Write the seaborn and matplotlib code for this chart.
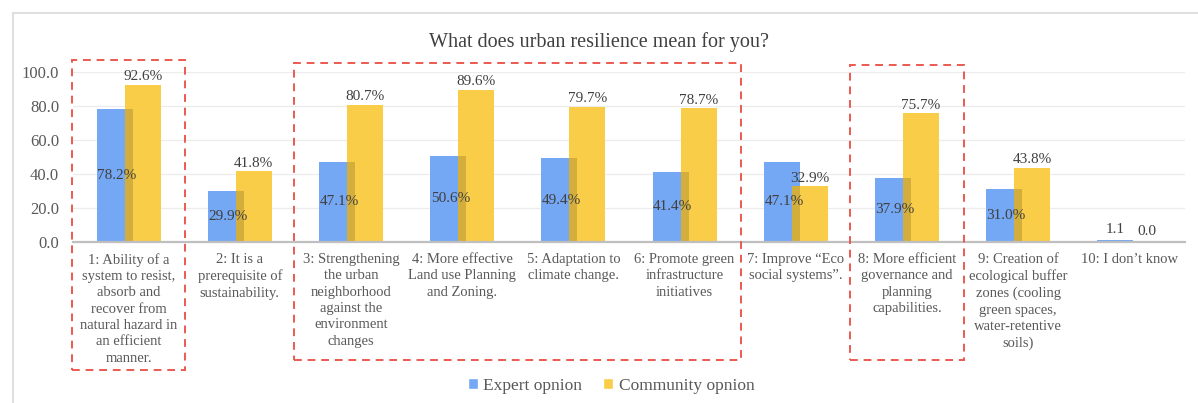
import matplotlib
matplotlib.use("Agg")
import matplotlib.pyplot as plt
import matplotlib.transforms as mtransforms
from matplotlib.patches import Rectangle
import numpy as np
import pandas as pd
import seaborn as sns

categories = [
    "1: Ability of a\nsystem to resist,\nabsorb and\nrecover from\nnatural hazard in\nan efficient\nmanner.",
    "2: It is a\nprerequisite of\nsustainability.",
    "3: Strengthening\nthe urban\nneighborhood\nagainst the\nenvironment\nchanges",
    "4: More effective\nLand use Planning\nand Zoning.",
    "5: Adaptation to\nclimate change.",
    "6: Promote green\ninfrastructure\ninitiatives",
    "7: Improve \u201cEco\nsocial systems\u201d.",
    "8: More efficient\ngovernance and\nplanning\ncapabilities.",
    "9: Creation of\necological buffer\nzones (cooling\ngreen spaces,\nwater-retentive\nsoils)",
    "10: I don\u2019t know",
]
expert = [78.2, 29.9, 47.1, 50.6, 49.4, 41.4, 47.1, 37.9, 31.0, 1.1]
community = [92.6, 41.8, 80.7, 89.6, 79.7, 78.7, 32.9, 75.7, 43.8, 0.0]
series_names = ["Expert opnion", "Community opnion"]
yticks = [0, 20, 40, 60, 80, 100]
# categories whose value labels carry a percent sign
show_percent = [True] * 9 + [False]
# highlighted category groups (first index, last index)
highlight_groups = [(0, 0), (2, 5), (7, 7)]

BLUE = "#74a7f4"
YELLOW = "#f9cd48"
TEXT = "#404040"
LABEL = "#595959"

df = pd.DataFrame({
    "category": categories * 2,
    "value": expert + community,
    "series": [series_names[0]] * len(categories) + [series_names[1]] * len(categories),
})

sns.set_theme(style="white")
plt.rcParams["font.family"] = ["Liberation Serif", "DejaVu Serif"]

fig = plt.figure(figsize=(11.98, 4.03), dpi=100)
ax = fig.add_axes([0.061, 0.3995, 0.928, 0.4218])

sns.barplot(data=df, x="category", y="value", hue="series", order=categories,
            hue_order=series_names, palette=[BLUE, YELLOW], width=0.504,
            dodge=True, saturation=1, ax=ax, legend=False, errorbar=None)

n = len(categories)
bars = list(ax.patches)[: 2 * n]
blue_bars, yellow_bars = bars[:n], bars[n:]
bar_w = 0.324
for p in bars:
    cx = p.get_x() + p.get_width() / 2
    p.set_width(bar_w)
    p.set_x(cx - bar_w / 2)
    p.set_linewidth(0)
for p in blue_bars:
    p.set_zorder(2)
for p in yellow_bars:
    p.set_zorder(3)

# darker tone where the two bars overlap
for pb, py in zip(blue_bars, yellow_bars):
    shade = Rectangle((pb.get_x(), 0), pb.get_width(), pb.get_height(),
                      facecolor="black", alpha=0.15, linewidth=0, zorder=4,
                      transform=ax.transData)
    ax.add_patch(shade)
    shade.set_clip_path(py)

# value labels
for i, (pb, py) in enumerate(zip(blue_bars, yellow_bars)):
    ve, vc = expert[i], community[i]
    bx = pb.get_x() + pb.get_width() / 2
    yx = py.get_x() + py.get_width() / 2
    if show_percent[i]:
        ax.text(bx + 0.02, ve / 2, f"{ve:.1f}%", ha="center", va="center",
                fontsize=11, color=TEXT, zorder=6)
        ax.annotate(f"{vc:.1f}%", (yx, vc), xytext=(0, 1), textcoords="offset points",
                    ha="center", va="bottom", fontsize=11, color=TEXT,
                    zorder=6, annotation_clip=False)
    else:
        ax.annotate(f"{ve:.1f}", (bx, ve), xytext=(0, 3), textcoords="offset points",
                    ha="center", va="bottom", fontsize=11, color=TEXT, zorder=6,
                    annotation_clip=False)
        ax.annotate(f"{vc:.1f}", (yx + 0.03, vc), xytext=(0, 3), textcoords="offset points",
                    ha="center", va="bottom", fontsize=11, color=TEXT, zorder=6,
                    annotation_clip=False)

ax.set_ylim(0, 100)
ax.set_xlim(-0.5, n - 0.5)
ax.set_yticks(yticks)
ax.set_yticklabels([f"{t:.1f}" for t in yticks], fontsize=12, color=LABEL)
ax.set_xticks(range(n))
ax.set_xticklabels(categories, fontsize=10.5, color=LABEL, linespacing=1.33,
                   va="top", ha="center")
ax.tick_params(axis="both", length=0)
ax.tick_params(axis="x", pad=8)
ax.tick_params(axis="y", pad=10)
ax.set_xlabel("")
ax.set_ylabel("")
for s in ["top", "right", "left"]:
    ax.spines[s].set_visible(False)
ax.spines["bottom"].set_color("#bfbfbf")
ax.spines["bottom"].set_linewidth(1.6)
ax.spines["bottom"].set_zorder(5)
for t in yticks[1:]:
    ax.axhline(t, color="#ececec", linewidth=0.9, zorder=0)

# dashed highlight frames around category groups
trans = mtransforms.blended_transform_factory(ax.transData, fig.transFigure)
frame_tops = [0.851, 0.844, 0.839]
frame_bottoms = [0.082, 0.107, 0.107]
for (a, b), top, bot in zip(highlight_groups, frame_tops, frame_bottoms):
    rect = Rectangle((a - 0.51, bot), (b - a) + 1.02, top - bot, transform=trans,
                     fill=False, edgecolor="#ea5a52", linestyle=(0, (4, 3)),
                     linewidth=1.4, clip_on=False, zorder=7)
    fig.add_artist(rect)

# outer chart frame
fig.add_artist(Rectangle((0.0105, -0.05), 1.1, 1.018, transform=fig.transFigure,
                         fill=False, edgecolor="#d9d9d9", linewidth=1.2))

fig.text(0.5, 0.896, "What does urban resilience mean for you?", ha="center",
         va="center", fontsize=14.5, color=TEXT)

handles = [Rectangle((0, 0), 1, 1, facecolor=BLUE), Rectangle((0, 0), 1, 1, facecolor=YELLOW)]
fig.legend(handles, series_names, loc="center", bbox_to_anchor=(0.51, 0.042), ncol=2,
           frameon=False, fontsize=12.5, handlelength=0.6, handleheight=0.6,
           handletextpad=0.3, columnspacing=1.2, labelcolor=LABEL)

fig.savefig("out.png", dpi=100, facecolor="white")
